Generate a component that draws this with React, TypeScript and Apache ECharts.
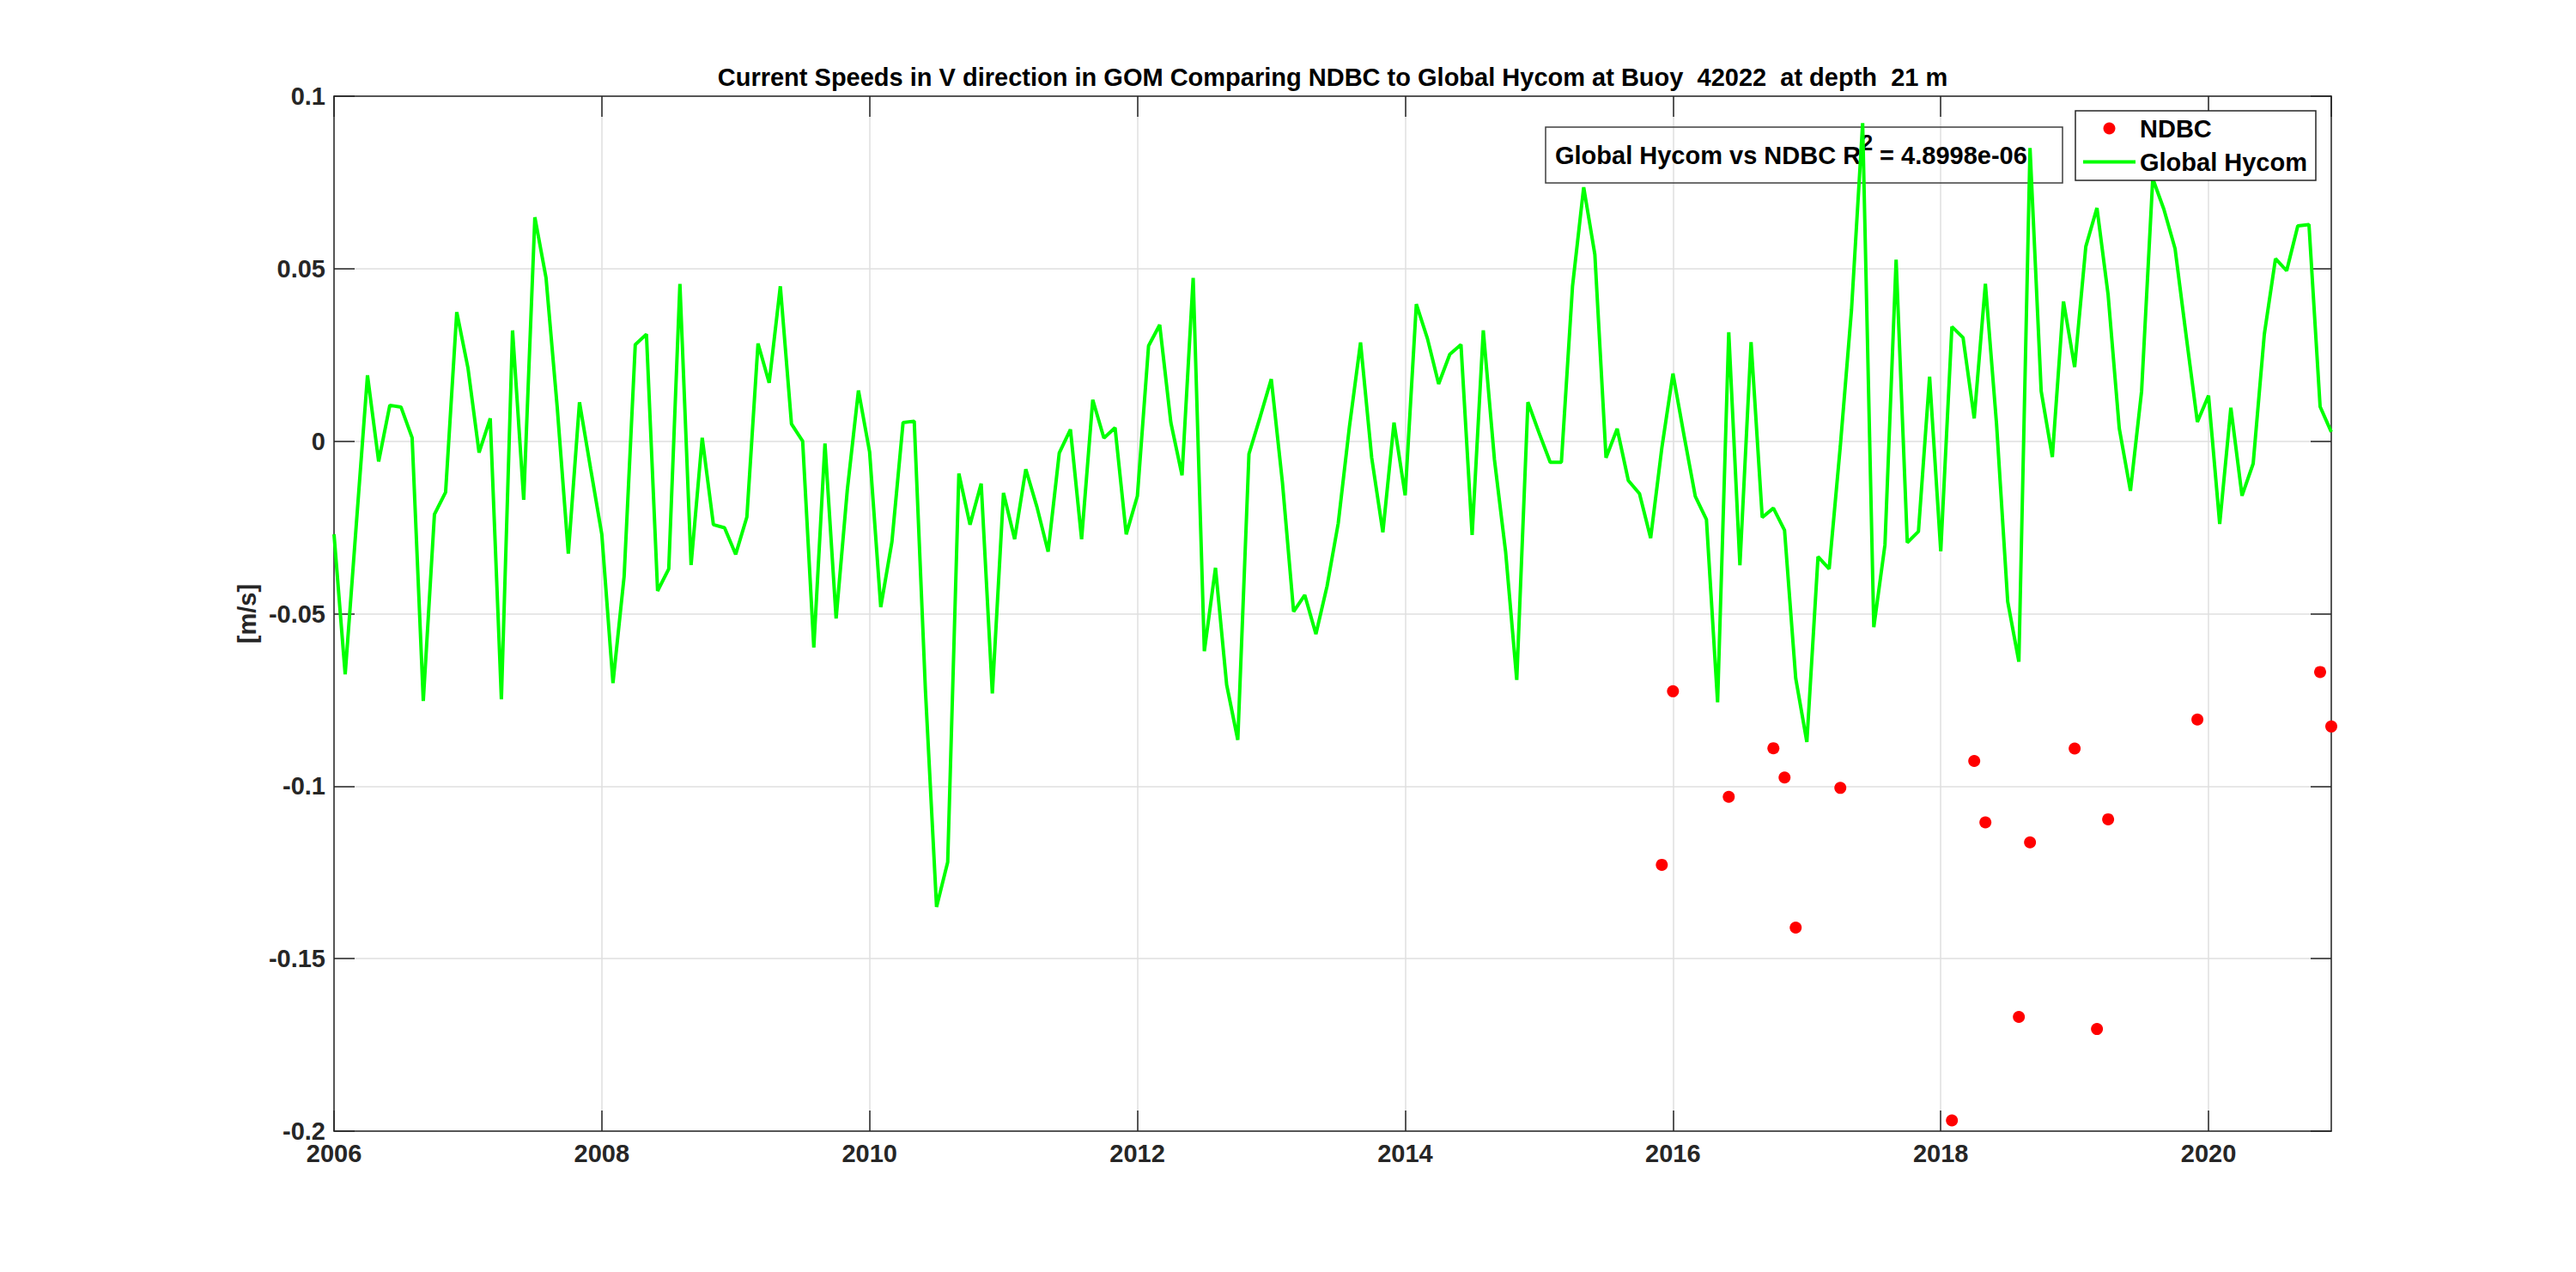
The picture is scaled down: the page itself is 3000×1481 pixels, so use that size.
import React, { useEffect, useRef } from 'react';
import * as echarts from 'echarts';

const FONT = '"Liberation Sans", Arial, Helvetica, sans-serif';
const TITLE = 'Current Speeds in V direction in GOM Comparing NDBC to Global Hycom at Buoy  42022  at depth  21 m';
const Y_NAME = '[m/s]';
const ANNOTATION = 'Global Hycom vs NDBC R{sup|2} = 4.8998e-06';

// Global Hycom: monthly values, Jan 2006 .. Dec 2020
const hycomStart = '2006-01';
const hycomValues = [
  -0.027, -0.0676, -0.024, 0.0191, -0.0059, 0.0104, 0.0099, 0.001, -0.0753, -0.0212, -0.0148, 0.0374,
  0.0213, -0.0033, 0.0066, -0.0748, 0.0321, -0.017, 0.0649, 0.0474, 0.01, -0.0326, 0.0113, -0.008,
  -0.027, -0.0701, -0.0392, 0.028, 0.031, -0.0434, -0.037, 0.0456, -0.0359, 0.001, -0.0242, -0.0251,
  -0.0328, -0.022, 0.0283, 0.0169, 0.0449, 0.005, 0.0, -0.0598, -0.0007, -0.0514, -0.0142, 0.0147,
  -0.0031, -0.0481, -0.0292, 0.0054, 0.0058, -0.072, -0.135, -0.122, -0.0094, -0.0242, -0.0123, -0.0731,
  -0.015, -0.0284, -0.0081, -0.0191, -0.032, -0.0034, 0.0034, -0.0284, 0.012, 0.0009, 0.0039, -0.027,
  -0.0159, 0.0276, 0.0337, 0.0054, -0.0099, 0.0473, -0.0609, -0.0367, -0.0706, -0.0866, -0.0037, 0.007,
  0.018, -0.012, -0.0494, -0.0446, -0.0559, -0.042, -0.0238, 0.0041, 0.0286, -0.0048, -0.0264, 0.0054,
  -0.0157, 0.0397, 0.0297, 0.0166, 0.0252, 0.028, -0.0272, 0.0321, -0.0053, -0.032, -0.0692, 0.0113,
  0.0024, -0.0061, -0.0061, 0.045, 0.0736, 0.0541, -0.0048, 0.0036, -0.0114, -0.0152, -0.0281, -0.002,
  0.0196, 0.0015, -0.016, -0.0227, -0.0757, 0.0316, -0.036, 0.0287, -0.0221, -0.0194, -0.0258, -0.0687,
  -0.0872, -0.0335, -0.037, -0.0014, 0.038, 0.0922, -0.0539, -0.03, 0.0526, -0.0294, -0.0262, 0.0187,
  -0.0319, 0.0332, 0.03, 0.0066, 0.0456, 0.005, -0.0465, -0.0639, 0.085, 0.0145, -0.0046, 0.0405,
  0.0215, 0.0564, 0.0676, 0.0424, 0.0037, -0.0144, 0.0145, 0.0761, 0.0672, 0.0558, 0.0304, 0.0056,
  0.0132, -0.024, 0.0097, -0.0158, -0.0065, 0.031, 0.0529, 0.0494, 0.0624, 0.0628, 0.01, 0.0027,
];

// NDBC observations
const ndbcDates = [
  '2015-12', '2016-01', '2016-06', '2016-10', '2016-11', '2016-12', '2017-04', '2018-02', '2018-04',
  '2018-05', '2018-08', '2018-09', '2019-01', '2019-03', '2019-04', '2019-12', '2020-11', '2020-12',
];
const ndbcValues = [
  -0.1228, -0.0725, -0.1031, -0.089, -0.0975, -0.141, -0.1005, -0.1969, -0.0927,
  -0.1105, -0.1669, -0.1163, -0.0891, -0.1704, -0.1096, -0.0807, -0.0669, -0.0827,
];

const xTickYears = [2006, 2008, 2010, 2012, 2014, 2016, 2018, 2020];
const yTicks = [-0.2, -0.15, -0.1, -0.05, 0, 0.05, 0.1];

const monthToYear = (s: string) => {
  const [y, m] = s.split('-').map(Number);
  return y + (m - 1) / 12;
};

export default function App() {
  const ref = useRef<HTMLDivElement>(null);

  useEffect(() => {
    const chart = echarts.init(ref.current as HTMLDivElement, null, { renderer: 'svg' });
    const x0 = monthToYear(hycomStart);
    const hycomData = hycomValues.map((v, i) => [x0 + i / 12, v]);
    const ndbcData = ndbcDates.map((d, i) => [monthToYear(d), ndbcValues[i]]);
    const xMin = xTickYears[0];
    const xMax = hycomData[hycomData.length - 1][0];
    const xInterval = xTickYears[1] - xTickYears[0];
    const yMin = yTicks[0];
    const yMax = yTicks[yTicks.length - 1];
    const yInterval = 0.05;

    const axisColor = '#262626';
    const lineStyle = { color: axisColor, width: 1.5 };
    const tickStyle = { show: true, inside: true, length: 24, lineStyle };
    const labelText = { fontSize: 29, fontWeight: 'bold' as const, color: axisColor, fontFamily: FONT };
    const grid = { show: true, lineStyle: { color: '#dfdfdf', width: 1.5 } };

    chart.setOption({
      animation: false,
      backgroundColor: '#ffffff',
      textStyle: { fontFamily: FONT },
      title: {
        text: TITLE,
        left: 1552,
        top: 75,
        textAlign: 'center',
        padding: 0,
        textStyle: { fontSize: 29, fontWeight: 'bold', color: '#000', fontFamily: FONT },
      },
      legend: {
        orient: 'vertical',
        left: 2417,
        top: 129,
        padding: [6, 10, 7, 9],
        itemGap: 10,
        itemWidth: 61,
        itemHeight: 14,
        borderColor: axisColor,
        borderWidth: 1.5,
        backgroundColor: '#ffffff',
        textStyle: { fontSize: 29, fontWeight: 'bold', color: '#000', fontFamily: FONT },
        data: [
          { name: 'NDBC', icon: 'circle' },
          { name: 'Global Hycom', icon: 'path://M0 0H61V4H0Z' },
        ],
      },
      grid: { left: 389, right: 285, top: 112, bottom: 164, containLabel: false },
      xAxis: [
        {
          type: 'value',
          min: xMin,
          max: xMax,
          interval: xInterval,
          axisLine: { show: true, onZero: false, lineStyle },
          axisTick: tickStyle,
          splitLine: grid,
          axisLabel: {
            ...labelText,
            margin: 11,
            showMaxLabel: false,
            formatter: (v: number) => (Math.abs(v - Math.round(v)) < 1e-6 ? String(Math.round(v)) : ''),
          },
        },
        {
          type: 'value',
          position: 'top',
          min: xMin,
          max: xMax,
          interval: xInterval,
          axisLine: { show: true, onZero: false, lineStyle },
          axisTick: tickStyle,
          splitLine: { show: false },
          axisLabel: { show: false },
        },
      ],
      yAxis: [
        {
          type: 'value',
          min: yMin,
          max: yMax,
          interval: yInterval,
          name: Y_NAME,
          nameLocation: 'middle',
          nameGap: 85,
          nameTextStyle: { ...labelText },
          axisLine: { show: true, onZero: false, lineStyle },
          axisTick: tickStyle,
          splitLine: grid,
          axisLabel: {
            ...labelText,
            margin: 10,
            formatter: (v: number) => String(Math.round(v * 100) / 100 || 0),
          },
        },
        {
          type: 'value',
          position: 'right',
          min: yMin,
          max: yMax,
          interval: yInterval,
          axisLine: { show: true, onZero: false, lineStyle },
          axisTick: tickStyle,
          splitLine: { show: false },
          axisLabel: { show: false },
        },
      ],
      graphic: [
        {
          type: 'rect',
          z: 1,
          shape: { x: 1800, y: 148, width: 602, height: 65 },
          style: { fill: 'none', stroke: '#3f3f3f', lineWidth: 1.5 },
        },
        {
          type: 'text',
          z: 1,
          x: 1811,
          y: 181,
          style: {
            text: ANNOTATION,
            fill: '#000',
            fontSize: 29,
            fontWeight: 'bold',
            fontFamily: FONT,
            lineHeight: 56,
            align: 'left',
            verticalAlign: 'middle',
            rich: {
              sup: { fontSize: 25, fontWeight: 'bold', fontFamily: FONT, fill: '#000', lineHeight: 24, verticalAlign: 'top' },
            },
          },
        },
      ],
      series: [
        {
          name: 'NDBC',
          type: 'scatter',
          data: ndbcData,
          symbol: 'circle',
          symbolSize: 14,
          itemStyle: { color: '#ff0000', opacity: 1 },
          z: 4,
        },
        {
          name: 'Global Hycom',
          type: 'line',
          data: hycomData,
          symbol: 'none',
          showSymbol: false,
          lineStyle: { color: '#00ff00', width: 4 },
          itemStyle: { color: '#00ff00' },
          z: 3,
        },
      ],
    });

    return () => chart.dispose();
  }, []);

  return (
    <div
      ref={ref}
      style={{ position: 'absolute', left: 0, top: 0, width: 3000, height: 1481, background: '#ffffff' }}
    />
  );
}
